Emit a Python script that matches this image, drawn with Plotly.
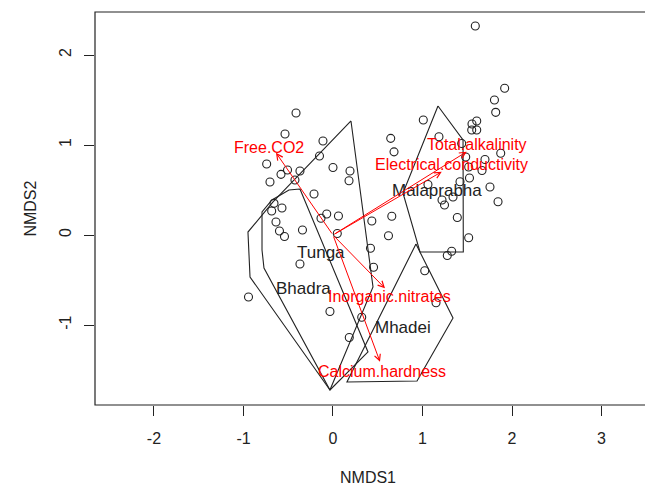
import plotly.graph_objects as go

# Site scores (NMDS1, NMDS2)
site_x = [-0.413, -0.536, -0.112, -0.151, -0.741, 0.000, 0.190, -0.581, -0.508, -0.369,
          -0.425, 0.179, -0.704, -0.212, -0.659, -0.570, -0.685, -0.637, -0.598, -0.542,
          -0.341, -0.070, -0.134, 0.061, 0.048, -0.369, -0.944, -0.034, 0.321, 0.182,
          0.645, 0.682, 0.434, 0.657, 0.620, 0.419, 0.453, 1.025, 1.151, 1.277,
          1.326, 1.389, 1.516, 1.590, 1.918, 1.804, 1.818, 1.009, 1.606, 1.553,
          1.550, 1.606, 1.184, 1.874, 1.483, 1.698, 1.516, 1.665, 1.525, 1.419,
          1.061, 1.754, 1.844, 1.218, 1.246, 1.341, 1.438]
site_y = [1.356, 1.122, 1.044, 0.878, 0.789, 0.750, 0.711, 0.674, 0.722, 0.711,
          0.611, 0.603, 0.589, 0.456, 0.352, 0.300, 0.267, 0.144, 0.044, -0.017,
          0.056, 0.233, 0.186, 0.211, 0.017, -0.322, -0.689, -0.850, -0.914, -1.139,
          1.074, 0.924, 0.156, 0.208, -0.008, -0.148, -0.359, -0.397, -0.752, -0.228,
          -0.181, 0.194, -0.031, 2.322, 1.630, 1.500, 1.363, 1.278, 1.267, 1.233,
          1.167, 1.167, 1.092, 0.908, 0.867, 0.839, 0.756, 0.717, 0.633, 0.592,
          0.561, 0.533, 0.370, 0.389, 0.333, 0.422, 1.017]

# Group hulls
hull_names = ["Bhadra", "Tunga", "Malaprabha", "Mhadei"]
hull_x = [
    [0.201, 0.447, -0.034, -0.927, -0.950, -0.670],
    [-0.369, 0.391, -0.034, -0.771, -0.793, -0.793, -0.682, -0.492],
    [1.173, 1.453, 1.456, 0.972, 0.782],
    [0.927, 1.341, 0.939, 0.156],
]
hull_y = [
    [1.267, -0.578, -1.722, -0.467, 0.033, 0.367],
    [0.511, -1.300, -1.722, -0.367, -0.167, 0.256, 0.389, 0.500],
    [1.433, 1.056, -0.189, -0.189, 0.467],
    [-0.100, -0.922, -1.622, -1.633],
]
group_label_x = [-0.335, -0.137, 1.159, 0.786]
group_label_y = [-0.590, -0.190, 0.492, -1.026]

# Environmental vectors (envfit)
env_names = ["Free.CO2", "Total.alkalinity", "Electrical.conductivity",
             "Inorganic.nitrates", "Calcium.hardness"]
env_x = [-0.637, 1.494, 1.215, 0.581, 0.525]
env_y = [0.914, 0.926, 0.703, -0.592, -1.408]
env_label_x = [-0.718, 1.605, 1.322, 0.628, 0.547]
env_label_y = [0.974, 1.011, 0.789, -0.685, -1.519]

x_ticks = [-2, -1, 0, 1, 2, 3]
x_tick_labels = ["-2", "-1", "0", "1", "2", "3"]
y_ticks = [-1, 0, 1, 2]
y_tick_labels = ["-1", "0", "1", "2"]

FONT = "Liberation Sans, Arial, sans-serif"
INK = "#222222"

fig = go.Figure()

for hx, hy in zip(hull_x, hull_y):
    fig.add_trace(go.Scatter(x=hx + [hx[0]], y=hy + [hy[0]], mode="lines",
                             line=dict(color=INK, width=1.1),
                             hoverinfo="skip", showlegend=False))

fig.add_trace(go.Scatter(x=site_x, y=site_y, mode="markers",
                         marker=dict(symbol="circle-open", size=8,
                                     line=dict(color=INK, width=1.1),
                                     color=INK),
                         showlegend=False))

for name, lx, ly in zip(hull_names, group_label_x, group_label_y):
    fig.add_annotation(x=lx, y=ly, text=name, showarrow=False,
                       font=dict(family=FONT, size=17, color=INK))

for ex, ey in zip(env_x, env_y):
    fig.add_annotation(x=ex, y=ey, ax=0, ay=0, xref="x", yref="y",
                       axref="x", ayref="y", text="", showarrow=True,
                       arrowhead=5, arrowsize=1.2, arrowwidth=1,
                       arrowcolor="#ff0000")

for name, lx, ly in zip(env_names, env_label_x, env_label_y):
    fig.add_annotation(x=lx, y=ly, text=name, showarrow=False,
                       font=dict(family=FONT, size=16, color="#ff0000"))

fig.add_annotation(x=0.497, y=-0.184, xref="paper", yref="paper", text="NMDS1",
                   xanchor="center", yanchor="middle",
                   showarrow=False, font=dict(family=FONT, size=16, color=INK))
fig.add_annotation(x=-0.118, y=0.5, xref="paper", yref="paper", text="NMDS2",
                   xanchor="center", yanchor="middle",
                   textangle=-90, showarrow=False,
                   font=dict(family=FONT, size=16, color=INK))

fig.add_shape(type="rect", xref="paper", yref="paper", x0=0, x1=1.02, y0=0, y1=1,
              line=dict(color=INK, width=1.2))

fig.update_layout(
    width=645, height=489,
    margin=dict(l=95, r=0, t=12, b=84),
    paper_bgcolor="white", plot_bgcolor="white",
    xaxis=dict(range=[-2.659, 3.486], tickvals=x_ticks, ticktext=x_tick_labels,
               ticks="outside", ticklen=10, automargin=False, ticklabelstandoff=9,
               tickcolor=INK, showgrid=False, zeroline=False, showline=False,
               tickfont=dict(family=FONT, size=16, color=INK)),
    yaxis=dict(range=[-1.889, 2.478], tickvals=y_ticks, ticktext=y_tick_labels,
               ticks="outside", ticklen=10, automargin=False, ticklabelstandoff=7,
               tickcolor=INK, showgrid=False, zeroline=False, showline=False,
               tickangle=-90,
               tickfont=dict(family=FONT, size=16, color=INK)),
)

fig.write_html("out.html",
               config={"displayModeBar": False},
               post_script="document.body.style.margin='0';"
                           "document.body.style.overflow='hidden';")
